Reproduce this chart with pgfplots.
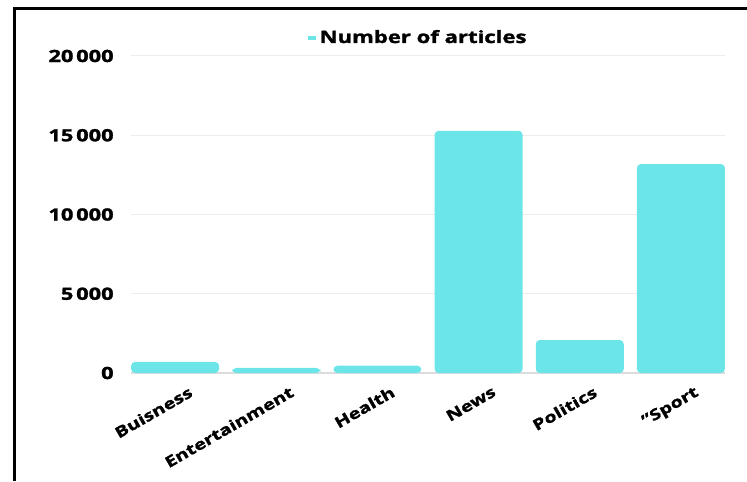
\documentclass[border=0pt]{standalone}
\usepackage{pgfplots}
\pgfplotsset{compat=1.18}
\usepackage{fontspec}
\setmainfont{Open Sans}[FakeStretch=1.3, BoldFeatures={FakeBold=1.6}]
\definecolor{barcyan}{RGB}{108,229,232}
\definecolor{gridgray}{RGB}{236,236,236}
\definecolor{zerogray}{RGB}{220,220,220}
\begin{document}
\begin{tikzpicture}
\useasboundingbox (0,0) rectangle (373.5pt,240.5pt);
\draw[line width=1.5pt,black] (7pt,0) -- (7pt,236pt) -- (373.5pt,236pt);
\begin{axis}[
  at={(65.5pt,54pt)}, anchor=south west,
  scale only axis, width=297pt, height=158.5pt,
  ybar, bar width=44pt,
  xmin=-0.436, xmax=5.436, ymin=0, ymax=20000,
  xtick=data,
  xticklabels={Buisness,Entertainment,Health,News,Politics,{"Sport}},
  ytick={0,5000,10000,15000,20000},
  scaled y ticks=false,
  yticklabel={\pgfmathprintnumber[fixed,precision=0,1000 sep={\,},assume math mode=true]{\tick}},
  axis line style={draw=none},
  major tick length=0pt,
  ymajorgrids, grid style={gridgray, line width=0.5pt},
  extra y ticks={0}, extra y tick labels={},
  extra y tick style={grid style={zerogray,line width=1pt}},
  yticklabel style={font=\fontsize{8.4}{10}\selectfont\bfseries, anchor=east, inner sep=0pt, xshift=-8.5pt},
  xticklabel style={font=\fontsize{7.6}{10}\selectfont\bfseries, inner sep=0pt, xshift=6.5pt, yshift=-6pt, rotate=30, anchor=north east},
  legend style={draw=none, fill=none, at={(0.485,1)}, anchor=center, yshift=9pt,
    font=\fontsize{8.5}{10}\selectfont\bfseries, legend columns=-1},
  legend image code/.code={\fill[barcyan, sharp corners] (0pt,-1.2pt) rectangle (4pt,1.2pt);},
  clip=false,
]
\addplot[fill=barcyan, draw=none, rounded corners=2pt] coordinates {
  (0,700) (1,320) (2,460) (3,15280) (4,2080) (5,13180)
};
\addlegendentry{Number of articles}
\end{axis}
\end{tikzpicture}
\end{document}
